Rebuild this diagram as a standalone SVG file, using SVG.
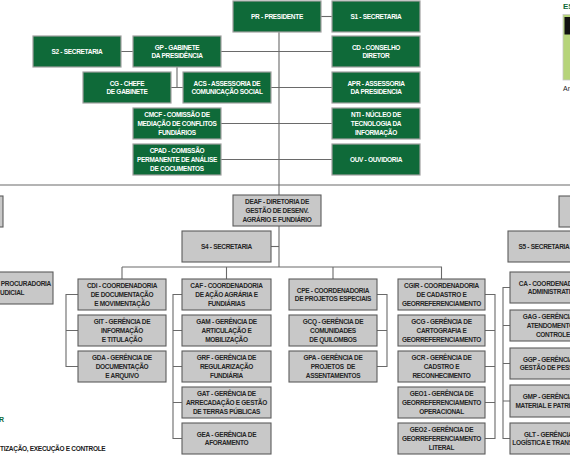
<svg xmlns="http://www.w3.org/2000/svg" width="570" height="460" viewBox="0 0 570 460">
<style>
.g rect{fill:#0f6a39;stroke:#a0a0a0;stroke-width:1.2}
.g text{fill:#fff}
.y rect{fill:#c8c8c8;stroke:#5c5c5c;stroke-width:1.1}
.y text{fill:#262626}
text{font-family:"Liberation Sans",Arial,sans-serif;font-weight:bold;font-size:6.5px;letter-spacing:-0.3px;text-anchor:middle}
.c path{fill:none;stroke:#6a6a6a;stroke-width:1.1}
</style>
<rect width="570" height="460" fill="#fff"/>
<g class="c" id="connectors">
<path d="M321,16.5H332"/>
<path d="M279,32V195M279,226V267"/>
<path d="M121,51.5H133M221,51.5H332"/>
<path d="M177,67V87.5M171,87.5H183M271,87.5H332"/>
<path d="M221,123.5H332M221,159.5H332"/>
<path d="M0,185H570"/>
<path d="M271,246.5H279"/>
<path d="M122,267H442M122,267V279M226.5,267V279M333,267V279M441.5,267V279"/>
<path d="M78,294.5H66V366.5H78M66,330.5H78"/>
<path d="M182,294.5H173V438.5H182M173,330.5H182M173,366.5H182M173,402.5H182"/>
<path d="M377,294.5H387V366.5H377M377,330.5H387"/>
<path d="M485,294.5H495V438.5H485M485,330.5H495M485,366.5H495M485,402.5H495"/>
<path d="M510,287.5H503V438.5H510M503,325.5H510M503,363.5H510M503,401H510"/>
</g>
<g class="g" id="PR"><rect x="233" y="1" width="88" height="31"/><text x="277" y="19">PR - PRESIDENTE</text></g>
<g class="g" id="S1"><rect x="332" y="1" width="88" height="31"/><text x="376" y="19">S1 - SECRETARIA</text></g>
<g class="g" id="S2"><rect x="33" y="36" width="88" height="31"/><text x="77" y="54">S2 - SECRETARIA</text></g>
<g class="g" id="GP"><rect x="133" y="36" width="88" height="31"/><text x="177" y="49.6">GP - GABINETE</text><text x="177" y="58.3">DA PRESIDÊNCIA</text></g>
<g class="g" id="CD"><rect x="332" y="36" width="88" height="31"/><text x="376" y="49.6">CD - CONSELHO</text><text x="376" y="58.3">DIRETOR</text></g>
<g class="g" id="CG"><rect x="83" y="72" width="88" height="31"/><text x="127" y="85.6">CG - CHEFE</text><text x="127" y="94.3">DE GABINETE</text></g>
<g class="g" id="ACS"><rect x="183" y="72" width="88" height="31"/><text x="227" y="85.6">ACS - ASSESSORIA DE</text><text x="227" y="94.3">COMUNICAÇÃO SOCIAL</text></g>
<g class="g" id="APR"><rect x="332" y="72" width="88" height="31"/><text x="376" y="85.6">APR - ASSESSORIA</text><text x="376" y="94.3">DA PRESIDENCIA</text></g>
<g class="g" id="CMCF"><rect x="133" y="108" width="88" height="31"/><text x="177" y="117.2">CMCF - COMISSÃO DE</text><text x="177" y="125.9">MEDIAÇÃO DE CONFLITOS</text><text x="177" y="134.6">FUNDIÁRIOS</text></g>
<g class="g" id="NTI"><rect x="332" y="108" width="88" height="31"/><text x="376" y="117.2">NTI - NÚCLEO DE</text><text x="376" y="125.9">TECNOLOGIA DA</text><text x="376" y="134.6">INFORMAÇÃO</text></g>
<g class="g" id="CPAD"><rect x="133" y="144" width="88" height="31"/><text x="177" y="153.2">CPAD - COMISSÃO</text><text x="177" y="161.9">PERMANENTE DE ANÁLISE</text><text x="177" y="170.6">DE COCUMENTOS</text></g>
<g class="g" id="OUV"><rect x="332" y="144" width="88" height="31"/><text x="376" y="162">OUV - OUVIDORIA</text></g>
<g class="y" id="LEFTDIR"><rect x="-85" y="196" width="88" height="31"/></g>
<g class="y" id="RIGHTDIR"><rect x="559" y="196" width="88" height="31"/></g>
<g class="y" id="DEAF"><rect x="233" y="195" width="88" height="31"/><text x="277" y="204.2">DEAF - DIRETORIA DE</text><text x="277" y="212.9">GESTÃO DE DESENV.</text><text x="277" y="221.6">AGRÁRIO E FUNDIÁRIO</text></g>
<g class="y" id="S4"><rect x="182" y="231" width="89" height="31"/><text x="226.5" y="249">S4 - SECRETARIA</text></g>
<g class="y" id="S5"><rect x="508" y="231" width="88" height="31"/><text x="544" y="249">S5 - SECRETARIA</text></g>
<g class="y" id="PROC"><rect x="-35" y="272" width="88" height="32"/><text x="51" y="286" style="text-anchor:end">PROCURADORIA</text><text x="0" y="294.7" style="text-anchor:start">UDICIAL</text></g>
<g class="y" id="CDI"><rect x="78" y="279" width="88" height="31"/><text x="122" y="288.2">CDI - COORDENADORIA</text><text x="122" y="296.9">DE DOCUMENTAÇÃO</text><text x="122" y="305.6">E MOVIMENTAÇÃO</text></g>
<g class="y" id="GIT"><rect x="78" y="315" width="88" height="31"/><text x="122" y="324.2">GIT - GERÊNCIA DE</text><text x="122" y="332.9">INFORMAÇÃO</text><text x="122" y="341.6">E TITULAÇÃO</text></g>
<g class="y" id="GDA"><rect x="78" y="351" width="88" height="31"/><text x="122" y="360.2">GDA - GERÊNCIA DE</text><text x="122" y="368.9">DOCUMENTAÇÃO</text><text x="122" y="377.6">E ARQUIVO</text></g>
<g class="y" id="CAF"><rect x="182" y="279" width="89" height="31"/><text x="226.5" y="288.2">CAF - COORDENADORIA</text><text x="226.5" y="296.9">DE AÇÃO AGRÁRIA E</text><text x="226.5" y="305.6">FUNDIÁRIAS</text></g>
<g class="y" id="GAM"><rect x="182" y="315" width="89" height="31"/><text x="226.5" y="324.2">GAM - GERÊNCIA DE</text><text x="226.5" y="332.9">ARTICULAÇÃO E</text><text x="226.5" y="341.6">MOBILIZAÇÃO</text></g>
<g class="y" id="GRF"><rect x="182" y="351" width="89" height="31"/><text x="226.5" y="360.2">GRF - GERÊNCIA DE</text><text x="226.5" y="368.9">REGULARIZAÇÃO</text><text x="226.5" y="377.6">FUNDIÁRIA</text></g>
<g class="y" id="GAT"><rect x="182" y="387" width="89" height="31"/><text x="226.5" y="396.2">GAT - GERÊNCIA DE</text><text x="226.5" y="404.9">ARRECADAÇÃO E GESTÃO</text><text x="226.5" y="413.6">DE TERRAS PÚBLICAS</text></g>
<g class="y" id="GEA"><rect x="182" y="423" width="89" height="31"/><text x="226.5" y="436.6">GEA - GERÊNCIA DE</text><text x="226.5" y="445.3">AFORAMENTO</text></g>
<g class="y" id="CPE"><rect x="289" y="279" width="88" height="31"/><text x="333" y="292.6">CPE - COORDENADORIA</text><text x="333" y="301.3">DE PROJETOS ESPECIAIS</text></g>
<g class="y" id="GCQ"><rect x="289" y="315" width="88" height="31"/><text x="333" y="324.2">GCQ - GERÊNCIA DE</text><text x="333" y="332.9">COMUNIDADES</text><text x="333" y="341.6">DE QUILOMBOS</text></g>
<g class="y" id="GPA"><rect x="289" y="351" width="88" height="31"/><text x="333" y="360.2">GPA - GERÊNCIA DE</text><text x="333" y="368.9" xml:space="preserve">PROJETOS  DE</text><text x="333" y="377.6">ASSENTAMENTOS</text></g>
<g class="y" id="CGIR"><rect x="398" y="279" width="87" height="31"/><text x="441.5" y="288.2">CGIR - COORDENADORIA</text><text x="441.5" y="296.9">DE CADASTRO E</text><text x="441.5" y="305.6">GEORREFERENCIAMENTO</text></g>
<g class="y" id="GCG"><rect x="398" y="315" width="87" height="31"/><text x="441.5" y="324.2">GCG - GERÊNCIA DE</text><text x="441.5" y="332.9">CARTOGRAFIA E</text><text x="441.5" y="341.6">GEORREFERENCIAMENTO</text></g>
<g class="y" id="GCR"><rect x="398" y="351" width="87" height="31"/><text x="441.5" y="360.2">GCR - GERÊNCIA DE</text><text x="441.5" y="368.9">CADSTRO E</text><text x="441.5" y="377.6">RECONHECIMENTO</text></g>
<g class="y" id="GEO1"><rect x="398" y="387" width="87" height="31"/><text x="441.5" y="396.2">GEO1 - GERÊNCIA DE</text><text x="441.5" y="404.9">GEORREFERENCIAMENTO</text><text x="441.5" y="413.6">OPERACIONAL</text></g>
<g class="y" id="GEO2"><rect x="398" y="423" width="87" height="31"/><text x="441.5" y="432.2">GEO2 - GERÊNCIA DE</text><text x="441.5" y="440.9">GEORREFERENCIAMENTO</text><text x="441.5" y="449.6">LITERAL</text></g>
<g class="y" id="CA"><rect x="510" y="272" width="88" height="31"/><text x="553" y="285.6">CA - COORDENADORIA</text><text x="553" y="294.3">ADMINISTRATIVA</text></g>
<g class="y" id="GAG"><rect x="510" y="310" width="88" height="31"/><text x="553" y="319.2">GAG - GERÊNCIA DE</text><text x="553" y="327.9">ATENDOMENTO E</text><text x="553" y="336.6">CONTROLE</text></g>
<g class="y" id="GGP"><rect x="510" y="348" width="88" height="31"/><text x="553" y="361.6">GGP - GERÊNCIA DE</text><text x="553" y="370.3">GESTÃO DE PESSOAS</text></g>
<g class="y" id="GMP"><rect x="510" y="385" width="88" height="32"/><text x="553" y="399.1">GMP - GERÊNCIA DE</text><text x="553" y="407.8">MATERIAL E PATRIMÔNIO</text></g>
<g class="y" id="GLT"><rect x="510" y="423" width="88" height="31"/><text x="553" y="436.6">GLT - GERÊNCIA DE</text><text x="553" y="445.3">LOGÍSTICA E TRANSPORTE</text></g>
<g id="legend">
<text x="563" y="9" style="text-anchor:start;fill:#0f6a39;font-size:8px;letter-spacing:0">ES</text>
<rect x="563" y="14.5" width="20" height="65.5" fill="#b6d47a" stroke="#c8c8c8" stroke-width="0.8"/>
<rect x="564.5" y="17" width="12" height="17.5" fill="#111"/>
<text x="563" y="91" style="text-anchor:start;fill:#222;font-weight:normal;font-size:7px;letter-spacing:0">An</text>
</g>
<g id="footer">
<text x="-1" y="422" style="text-anchor:start;fill:#0f6a39;font-size:7px;letter-spacing:0">R</text>
<text x="0" y="450.5" style="text-anchor:start;fill:#1a1a1a">TIZAÇÃO, EXECUÇÃO E CONTROLE</text>
</g>
</svg>
